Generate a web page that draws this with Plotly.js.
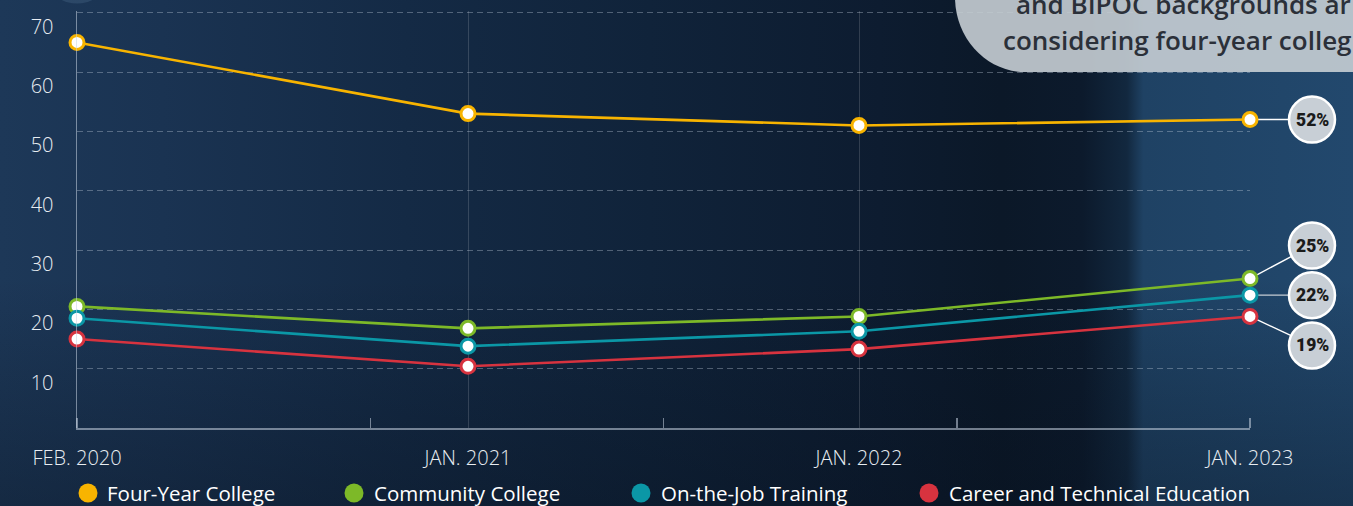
<!DOCTYPE html>
<html><head><meta charset="utf-8">
<script src="https://cdn.plot.ly/plotly-3.0.1.min.js"></script>
<style>
html,body{margin:0;padding:0;width:1353px;height:506px;overflow:hidden;}
body{background:
 linear-gradient(180deg, rgba(6,14,26,0) 0%, rgba(6,14,26,0) 55%, rgba(6,14,26,0.35) 100%),
 linear-gradient(90deg, #1d3858 0%, #1a3352 12%, #142a45 30%, #10233a 48%, #0d1c30 65%, #0b1828 74%, #0c1a2c 80%, #12283f 83.3%, #1f4264 84.5%, #22486d 100%);}
#chart{width:1353px;height:506px;}
</style></head>
<body><div id="chart"></div>
<script>
// ---- data ----
const periods = ['FEB. 2020', 'JAN. 2021', 'JAN. 2022', 'JAN. 2023'];
const fourYear   = [65, 53, 51, 52];
const community  = [20.5, 16.8, 18.8, 25.2];
const onTheJob   = [18.5, 13.8, 16.3, 22.4];
const careerTech = [15, 10.4, 13.3, 18.8];
const seriesNames = ['Four-Year College', 'Community College', 'On-the-Job Training', 'Career and Technical Education'];
const endLabels = ['52%', '25%', '22%', '19%'];
const yTicks = [10, 20, 30, 40, 50, 60, 70];
const calloutLines = ['and BIPOC backgrounds ar', 'considering four-year colleg'];

// ---- layout geometry ----
const W = 1353, H = 506, M = {l: 77, r: 103, t: 11, b: 78};
const plotW = W - M.l - M.r, plotH = H - M.t - M.b;
const yTop = 70.3, xMax = periods.length - 1;
const xIdx = periods.map((_, i) => i);
const pxX = plotW / xMax, pxY = plotH / yTop;
const fx = px => (px - M.l) / plotW;
const fy = py => 1 - (py - M.t) / plotH;

const colors = ['#f8b400', '#7db928', '#0b97a6', '#d7333f'];
const allSeries = [fourYear, community, onTheJob, careerTech];
const labelOffsetPx = [{dx: 62, dy: 0}, {dx: 62, dy: 33}, {dx: 62, dy: 0}, {dx: 62, dy: -29}];
const labelR = 23;
const legendSymbolX = [88, 354, 641, 929], legendTextX = [105, 372, 659, 947], legendY = 493;

const traces = allSeries.map((s, i) => ({
  x: xIdx, y: s, type: 'scatter', mode: 'lines+markers', name: seriesNames[i],
  line: {color: colors[i], width: 2.6},
  marker: {size: 14, color: '#ffffff', line: {color: colors[i], width: 3}},
  showlegend: false, cliponaxis: false, hoverinfo: 'skip'
}));

const lastVals = allSeries.map(s => s[s.length - 1]);
const shapes = [];
const annotations = [];

lastVals.forEach((v, i) => {
  const cx = 1 + labelOffsetPx[i].dx / plotW;
  const cy = (v + labelOffsetPx[i].dy / pxY) / yTop;
  shapes.push({type: 'line', xref: 'paper', yref: 'paper', x0: 1, y0: v / yTop, x1: cx, y1: cy,
    line: {color: i === 2 ? '#c5ccd3' : '#ffffff', width: 1.4}, layer: 'below'});
  shapes.push({type: 'circle', xref: 'paper', yref: 'paper',
    x0: cx - labelR / plotW, x1: cx + labelR / plotW, y0: cy - labelR / plotH, y1: cy + labelR / plotH,
    fillcolor: '#c8cfd6', line: {color: '#ffffff', width: 2.5}, layer: 'above'});
  annotations.push({xref: 'paper', yref: 'paper', x: cx, y: cy, xanchor: 'center', yanchor: 'middle',
    showarrow: false, text: endLabels[i], font: {family: 'Roboto', size: 17.5, color: '#1b1b1b', weight: 900}});
});

// legend (drawn as shapes + text)
seriesNames.forEach((n, i) => {
  shapes.push({type: 'circle', xref: 'paper', yref: 'paper',
    x0: fx(legendSymbolX[i] - 9.5), x1: fx(legendSymbolX[i] + 9.5), y0: fy(legendY + 9.5), y1: fy(legendY - 9.5),
    fillcolor: colors[i], line: {width: 0}, layer: 'above'});
  annotations.push({xref: 'paper', yref: 'paper', x: fx(legendTextX[i]), y: fy(legendY), xanchor: 'left', yanchor: 'middle',
    showarrow: false, text: n, font: {family: 'Open Sans', size: 20.5, color: '#ffffff'}});
});

const calloutPath = `M ${fx(955)},${fy(-12)} L ${fx(955)},${fy(-3)} C ${fx(955)},${fy(38.4)} ${fx(986.4)},${fy(72)} ${fx(1025)},${fy(72)} L ${fx(1365)},${fy(72)} L ${fx(1365)},${fy(-12)} Z`;
shapes.push({type: 'circle', xref: 'paper', yref: 'paper', x0: fx(52), x1: fx(102), y0: fy(-30), y1: fy(3.5),
   fillcolor: 'rgba(60,90,122,0.5)', line: {width: 0}, layer: 'below'});
shapes.push({type: 'path', xref: 'paper', yref: 'paper', path: calloutPath,
   fillcolor: '#c6ced4', opacity: 0.9, line: {width: 0}, layer: 'above'});

annotations.push(
  {xref: 'paper', yref: 'paper', x: fx(1014), y: fy(4), xanchor: 'left', yanchor: 'middle', showarrow: false,
   text: calloutLines[0], font: {family: 'Open Sans', size: 26, color: '#2b3039', weight: 600}},
  {xref: 'paper', yref: 'paper', x: fx(1001), y: fy(40), xanchor: 'left', yanchor: 'middle', showarrow: false,
   text: calloutLines[1], font: {family: 'Open Sans', size: 26, color: '#2b3039', weight: 600}}
);

const axisLine = 'rgba(200,212,226,0.55)';
const tickFont = {family: 'Open Sans', size: 20, color: '#e8edf2', weight: 300};
const layout = {
  width: W, height: H, margin: {l: M.l, r: M.r, t: M.t, b: M.b, pad: 0, autoexpand: false},
  paper_bgcolor: 'rgba(0,0,0,0)', plot_bgcolor: 'rgba(0,0,0,0)',
  showlegend: false,
  xaxis: {
    range: [0, xMax], tickmode: 'array', tickvals: xIdx, ticktext: periods,
    showgrid: true, gridcolor: 'rgba(255,255,255,0.15)', gridwidth: 1,
    showline: true, linecolor: axisLine, linewidth: 1.5, zeroline: false, ticks: '',
    tickfont: tickFont, ticklabelstandoff: 11, ticklabeloverflow: 'allow', fixedrange: true,
    minor: {tickmode: 'array', tickvals: [0, 0.75, 1.5, 2.25, 3], ticks: 'inside', ticklen: 10,
            tickcolor: axisLine, tickwidth: 1.5, showgrid: false}
  },
  yaxis: {
    range: [0, yTop], tickmode: 'array', tickvals: yTicks,
    showgrid: true, gridcolor: 'rgba(200,212,226,0.35)', griddash: '6px,4px', gridwidth: 1,
    showline: true, linecolor: axisLine, linewidth: 1.5, zeroline: false, ticks: '',
    ticklabelposition: 'outside bottom',
    tickfont: tickFont, ticklabelstandoff: 18, ticklabeloverflow: 'allow', fixedrange: true
  },
  shapes: shapes, annotations: annotations
};

Plotly.newPlot('chart', traces, layout, {displayModeBar: false, staticPlot: true});
</script>
</body></html>
